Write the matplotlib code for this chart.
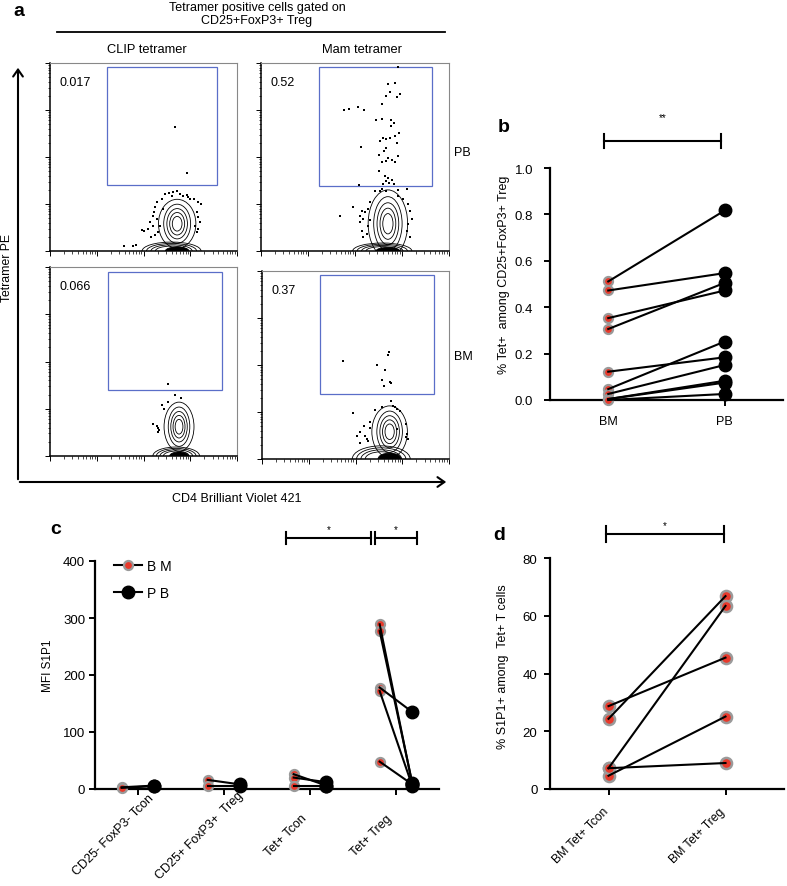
import matplotlib
matplotlib.use("Agg")
import matplotlib.pyplot as plt
import numpy as np
from matplotlib.patches import Ellipse, Rectangle, FancyArrowPatch
from matplotlib.lines import Line2D
from matplotlib.transforms import blended_transform_factory

plt.rcParams['font.family'] = ['Liberation Sans', 'DejaVu Sans']

W, H = 787, 887
RED = '#e8392b'
GREY = '#9a9a9a'
BLUE = '#5a6ec8'

# ---------- panel a : flow plots (axis units = decades, 0..4) ----------
facs_pct = ['0.017', '0.52', '0.066', '0.37']
gate_x0 = [1.22, 1.23, 1.24, 1.24]
gate_x1 = [3.57, 3.64, 3.68, 3.68]
gate_y0 = [1.40, 1.38, 1.40, 1.38]
gate_y1 = [3.91, 3.91, 3.89, 3.91]

# main population (column + base) per plot
col_cx = [2.72, 2.70, 2.76, 2.73]
col_cy = [0.58, 0.58, 0.62, 0.58]
col_w = [0.40, 0.42, 0.32, 0.38]
col_h = [0.52, 0.72, 0.52, 0.55]
base_cx = [2.60, 2.58, 2.70, 2.55]
base_w = [0.63, 0.63, 0.50, 0.62]
base_h = [0.19, 0.17, 0.19, 0.28]

clip_pb_x = [2.67, 2.92, 2.46, 2.55, 2.64, 2.71, 2.78, 2.85, 2.96, 3.07, 3.17, 3.24,
             2.28, 2.25, 2.22, 2.20, 2.28, 2.14, 2.21, 2.10, 2.00, 2.32, 2.25, 2.17,
             3.14, 3.17, 3.21, 3.10, 3.17, 3.14, 2.60, 2.39, 2.99, 2.92, 2.42, 2.35,
             1.96, 1.58, 1.78, 1.85]
clip_pb_y = [2.64, 1.67, 1.21, 1.23, 1.25, 1.28, 1.21, 1.18, 1.14, 1.11, 1.04, 1.00,
             1.04, 0.93, 0.82, 0.75, 0.68, 0.61, 0.54, 0.47, 0.43, 0.40, 0.33, 0.29,
             0.82, 0.72, 0.61, 0.54, 0.47, 0.40, 1.18, 1.11, 1.11, 1.19, 0.89, 0.54,
             0.45, 0.10, 0.10, 0.12]
mam_pb_x = [2.92, 2.71, 2.85, 2.96, 2.67, 2.74, 2.89, 2.57, 1.77, 1.88, 2.07, 2.19,
            2.45, 2.57, 2.77, 2.82, 2.76, 2.94, 2.59, 2.53, 2.67, 2.74, 2.85, 2.90,
            2.65, 2.62, 2.12, 2.51, 2.71, 2.85, 2.92, 2.58, 2.67, 2.78, 2.50, 2.64,
            2.71, 2.78, 2.67, 2.73, 2.82, 2.60, 2.09, 2.57, 2.67, 2.53, 2.43, 2.91,
            3.11, 1.95, 2.14, 2.21, 2.28, 2.11, 2.18, 1.68, 2.32, 2.28, 2.14, 2.25,
            2.18, 3.13, 3.17, 3.21, 3.13, 3.11, 3.16, 2.32, 2.92, 3.03, 2.11]
mam_pb_y = [3.91, 3.56, 3.57, 3.35, 3.29, 3.38, 3.27, 3.13, 3.01, 3.03, 3.06, 3.01,
            2.79, 2.81, 2.78, 2.72, 2.67, 2.51, 2.40, 2.35, 2.38, 2.40, 2.44, 2.30,
            2.19, 2.12, 2.21, 2.05, 1.98, 1.90, 2.03, 1.89, 1.91, 1.93, 1.70, 1.59,
            1.55, 1.52, 1.48, 1.45, 1.43, 1.43, 1.41, 1.32, 1.28, 1.27, 1.28, 1.29,
            1.32, 0.93, 0.86, 0.82, 0.89, 0.75, 0.68, 0.75, 0.65, 0.54, 0.43, 0.36,
            0.29, 1.00, 0.86, 0.68, 0.57, 0.43, 0.29, 1.04, 1.18, 1.11, 0.61]
clip_bm_x = [2.53, 2.67, 2.80, 2.53, 2.39, 2.44, 2.21, 2.28, 2.32, 2.34, 2.30]
clip_bm_y = [1.52, 1.30, 1.23, 1.14, 1.07, 0.99, 0.68, 0.64, 0.59, 0.54, 0.50]
mam_bm_x = [1.74, 2.72, 2.69, 2.47, 2.63, 2.56, 2.74, 2.77, 2.60, 2.75, 2.80, 2.84,
            2.88, 2.56, 2.42, 2.95, 1.95, 2.18, 2.31, 2.10, 2.03, 2.20, 2.24, 2.27,
            2.10, 3.09, 3.11, 3.08, 3.13, 2.88, 2.31]
mam_bm_y = [2.09, 2.27, 2.21, 2.00, 1.90, 1.69, 1.63, 1.62, 1.56, 1.24, 1.13, 1.10,
            1.06, 1.10, 1.05, 1.03, 0.98, 0.71, 0.65, 0.57, 0.50, 0.48, 0.43, 0.39,
            0.35, 0.74, 0.53, 0.46, 0.43, 0.64, 0.78]
dots_x = [clip_pb_x, mam_pb_x, clip_bm_x, mam_bm_x]
dots_y = [clip_pb_y, mam_pb_y, clip_bm_y, mam_bm_y]

# ---------- panel b ----------
b_groups = ['BM', 'PB']
b_bm = [0.511, 0.472, 0.353, 0.306, 0.122, 0.047, 0.026, 0.004, 0.004, 0.0]
b_pb = [0.817, 0.547, 0.472, 0.505, 0.184, 0.252, 0.151, 0.083, 0.075, 0.026]

# ---------- panel c ----------
c_cats = ['CD25- FoxP3- Tcon', 'CD25+ FoxP3+  Treg', 'Tet+ Tcon', 'Tet+ Treg']
c_bm = [[3, 2], [16, 6], [26, 20, 6], [289, 277, 178, 172, 48]]
c_pb = [[6, 5], [8, 6], [6, 12, 6], [8, 10, 135, 5, 8]]

# ---------- panel d ----------
d_cats = ['BM Tet+ Tcon', 'BM Tet+ Treg']
d_tcon = [28.7, 24.3, 7.2, 4.6, 7.2]
d_treg = [45.5, 66.8, 63.4, 25.1, 9.0]

fig = plt.figure(figsize=(W / 100, H / 100), dpi=100)


def add_ax(x0, y0, x1, y1):
    return fig.add_axes([x0 / W, 1 - y1 / H, (x1 - x0) / W, (y1 - y0) / H])


def ftext(x, y, s, **kw):
    fig.text(x / W, 1 - y / H, s, **kw)


def fline(xs, ys, **kw):
    fig.add_artist(Line2D([x / W for x in xs], [1 - y / H for y in ys],
                          transform=fig.transFigure, **kw))


# ---- a ----
facs_boxes = [(50, 64, 237, 252), (261, 64, 449, 252),
              (50, 268, 237, 457), (262, 272, 449, 460)]
minor = np.concatenate([np.log10(np.arange(2, 10)) + d for d in range(4)])
hs = [1.0, 0.8, 0.62, 0.46, 0.3]
ws = [1.0, 0.72, 0.55, 0.4, 0.26]
for i, bx in enumerate(facs_boxes):
    ax = add_ax(*bx)
    ax.set_xlim(0, 4)
    ax.set_ylim(0, 4)
    for s in ['top', 'right']:
        ax.spines[s].set_color('#888888')
        ax.spines[s].set_linewidth(0.8)
    for s in ['left', 'bottom']:
        ax.spines[s].set_linewidth(1.1)
    ax.set_xticks(range(5))
    ax.set_yticks(range(5))
    ax.set_xticks(minor, minor=True)
    ax.set_yticks(minor, minor=True)
    ax.set_xticklabels([])
    ax.set_yticklabels([])
    ax.tick_params(which='major', length=3.5, width=0.7)
    ax.tick_params(which='minor', length=1.8, width=0.5)
    ax.add_patch(Rectangle((gate_x0[i], gate_y0[i]), gate_x1[i] - gate_x0[i],
                           gate_y1[i] - gate_y0[i], fill=False, ec=BLUE, lw=0.9))
    for h_s, w_s in zip(hs, ws):
        ax.add_patch(Ellipse((col_cx[i], col_cy[i]), 2 * col_w[i] * w_s,
                             2 * col_h[i] * h_s, fill=False, ec='black', lw=0.6))
    for k in [1.0, 0.85, 0.7, 0.55]:
        ax.add_patch(Ellipse((base_cx[i], 0.0), 2 * base_w[i] * k,
                             2 * base_h[i] * k, fill=False, ec='black', lw=0.6))
    ax.add_patch(Ellipse((col_cx[i], 0.0), base_w[i] * 0.8, base_h[i] * 0.9,
                         fc='black', ec='black', lw=0.6))
    ax.plot(dots_x[i], dots_y[i], 's', ms=1.7, mew=0, color='black')
    ax.text(0.05, 0.9, facs_pct[i], transform=ax.transAxes, fontsize=9,
            va='center', ha='left')

ftext(13, 12, 'a', fontsize=14, fontweight='bold', va='center')
ftext(257, 14.5, 'Tetramer positive cells gated on\nCD25+FoxP3+ Treg',
      fontsize=9, ha='center', va='center', linespacing=1.1)
fline([57, 445], [33, 33], color='black', lw=1.3)
ftext(147, 50, 'CLIP tetramer', fontsize=9.3, ha='center', va='center')
ftext(362, 50, 'Mam tetramer', fontsize=9.3, ha='center', va='center')
ftext(454, 153, 'PB', fontsize=9, ha='left', va='center')
ftext(454, 357, 'BM', fontsize=9, ha='left', va='center')
ftext(7, 268, 'Tetramer PE', fontsize=8.8, ha='center', va='center', rotation=90)
ftext(237, 499, 'CD4 Brilliant Violet 421', fontsize=9, ha='center', va='center')
fig.add_artist(FancyArrowPatch((18 / W, 1 - 483 / H), (18 / W, 1 - 66 / H),
                               transform=fig.transFigure, arrowstyle='->,head_length=0.5,head_width=0.35',
                               mutation_scale=10, lw=1.5, color='black'))
fig.add_artist(FancyArrowPatch((17 / W, 1 - 483 / H), (449 / W, 1 - 483 / H),
                               transform=fig.transFigure, arrowstyle='->,head_length=0.5,head_width=0.35',
                               mutation_scale=10, lw=1.5, color='black'))


def style(ax, pad):
    for s in ['top', 'right']:
        ax.spines[s].set_visible(False)
    for s in ['left', 'bottom']:
        ax.spines[s].set_linewidth(1.6)
    ax.tick_params(width=1.4, length=4, labelsize=9.5)
    ax.tick_params(axis='y', pad=pad)


def sig_bar(ax, x0, x1, y, cap, label, gap):
    tr = blended_transform_factory(ax.transData, ax.transAxes)
    ax.plot([x0, x1], [y, y], color='black', lw=1.5, transform=tr, clip_on=False)
    for xx in (x0, x1):
        ax.plot([xx, xx], [y - cap, y + cap], color='black', lw=1.5,
                transform=tr, clip_on=False)
    ax.text((x0 + x1) / 2, y + gap, label, transform=tr, ha='center',
            va='center', fontsize=7)


def slanted_labels(ax, labels, dx, dy, size):
    ax.set_xticklabels([''] * len(labels))
    for k, lab in enumerate(labels):
        ax.annotate(lab, xy=(k, 0), xycoords=('data', 'axes fraction'),
                    xytext=(dx, dy), textcoords='offset points', rotation=45,
                    ha='center', va='center', fontsize=size)


bm_style = dict(marker='o', ls='none', ms=6.5, mfc=RED, mec=GREY, mew=1.6,
                clip_on=False, zorder=3)
pb_style = dict(marker='o', ls='none', ms=9, mfc='black', mec='black',
                clip_on=False, zorder=3)

# ---- b ----
ax_b = add_ax(550, 169, 783, 401)
style(ax_b, 8)
ax_b.set_xlim(-0.5, 1.5)
ax_b.set_ylim(0, 1.0)
ax_b.set_yticks([0, 0.2, 0.4, 0.6, 0.8, 1.0])
ax_b.set_yticklabels(['0.0', '0.2', '0.4', '0.6', '0.8', '1.0'])
ax_b.set_xticks([0, 1])
ax_b.set_xticklabels(b_groups, fontsize=9)
ax_b.tick_params(axis='x', pad=7)
ax_b.plot(np.zeros(len(b_bm)), b_bm, **bm_style)
ax_b.plot(np.ones(len(b_pb)), b_pb, **pb_style)
for lo, hi in zip(b_bm, b_pb):
    ax_b.plot([0, 1], [lo, hi], color='black', lw=1.5, zorder=4, clip_on=False)
ax_b.set_ylabel('% Tet+  among CD25+FoxP3+ Treg', fontsize=9, labelpad=3)
ax_b.yaxis.set_label_coords(-0.172, 0.545)
sig_bar(ax_b, -0.04, 0.97, 1.116, 0.03, '**', 0.105)
ftext(498, 127, 'b', fontsize=14, fontweight='bold', va='center')

# ---- c ----
ax_c = add_ax(95, 562, 439, 790)
style(ax_c, 3)
ax_c.set_xlim(-0.5, 3.5)
ax_c.set_ylim(0, 400)
ax_c.set_yticks([0, 100, 200, 300, 400])
ax_c.set_xticks(range(len(c_cats)))
slanted_labels(ax_c, c_cats, -17.5, -33, 9)
for k in range(len(c_cats)):
    ax_c.plot([k - 0.19] * len(c_bm[k]), c_bm[k], **bm_style)
    ax_c.plot([k + 0.19] * len(c_pb[k]), c_pb[k], **pb_style)
    for lo, hi in zip(c_bm[k], c_pb[k]):
        ax_c.plot([k - 0.19, k + 0.19], [lo, hi], color='black', lw=1.5,
                  zorder=4, clip_on=False)
ax_c.set_ylabel('MFI S1P1', fontsize=8.5)
ax_c.yaxis.set_label_coords(-0.119, 0.545)
handles = [Line2D([], [], color='black', lw=1.5, marker='o', ms=6.5, mfc=RED,
                  mec=GREY, mew=1.6),
           Line2D([], [], color='black', lw=1.5, marker='o', ms=9, mfc='black',
                  mec='black')]
ax_c.legend(handles, ['B M', 'P B'], loc='upper left', bbox_to_anchor=(0.055, 1.01),
            frameon=False, fontsize=10, handlelength=2.0, labelspacing=0.95,
            handletextpad=0.4, borderaxespad=0, borderpad=0)
sig_bar(ax_c, 1.72, 2.71, 1.10, 0.026, '*', 0.04)
sig_bar(ax_c, 2.76, 3.24, 1.10, 0.026, '*', 0.04)
ftext(50, 530, 'c', fontsize=14, fontweight='bold', va='center')

# ---- d ----
ax_d = add_ax(550, 559, 784, 790)
style(ax_d, 5)
ax_d.set_xlim(-0.5, 1.5)
ax_d.set_ylim(0, 80)
ax_d.set_yticks([0, 20, 40, 60, 80])
ax_d.set_xticks([0, 1])
slanted_labels(ax_d, d_cats, -20, -33, 8.7)
dstyle = dict(bm_style, ms=8, mew=1.8)
ax_d.plot(np.zeros(len(d_tcon)), d_tcon, **dstyle)
ax_d.plot(np.ones(len(d_treg)), d_treg, **dstyle)
for lo, hi in zip(d_tcon, d_treg):
    ax_d.plot([0, 1], [lo, hi], color='black', lw=1.5, zorder=4, clip_on=False)
ax_d.set_ylabel('% S1P1+ among  Tet+ T cells', fontsize=9)
ax_d.yaxis.set_label_coords(-0.175, 0.535)
sig_bar(ax_d, -0.02, 0.99, 1.104, 0.035, '*', 0.04)
ftext(493, 535, 'd', fontsize=14, fontweight='bold', va='center')

fig.savefig('out.png', dpi=100)
